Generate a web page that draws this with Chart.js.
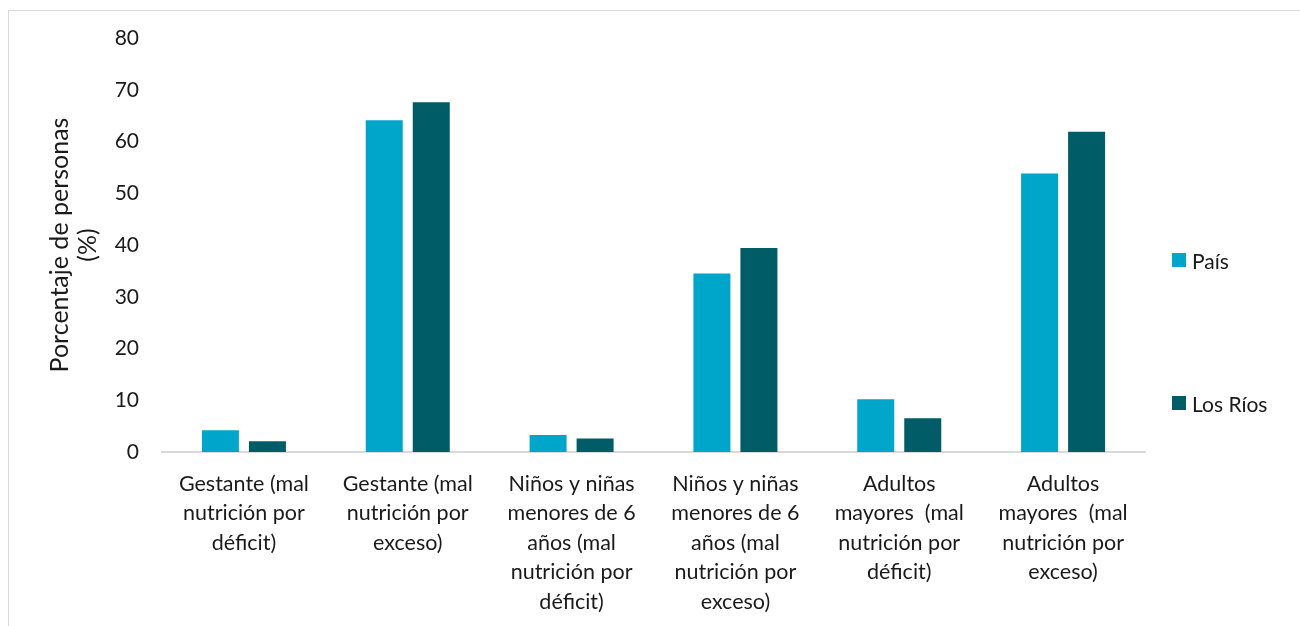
<!DOCTYPE html>
<html>
<head>
<meta charset="utf-8">
<script src="https://cdn.jsdelivr.net/npm/chart.js@4/dist/chart.umd.min.js"></script>
<style>
  html, body { margin: 0; padding: 0; background: #ffffff; }
  #wrap { position: relative; width: 1300px; height: 626px; overflow: hidden; }
  #frame { position: absolute; left: 8px; top: 10px; width: 1400px; height: 800px; border: 1px solid #d9d9d9; box-sizing: border-box; }
  canvas { position: absolute; left: 0; top: 0; }
  .lg { position: absolute; font-family: Lato, sans-serif; font-size: 21px; color: #1a1a1a; display: flex; align-items: center; height: 28px; }
  .lg span.box { display: inline-block; width: 14px; height: 14px; margin-right: 6px; }
</style>
</head>
<body>
<div id="wrap">
  <div id="frame"></div>
  <canvas id="c" width="1300" height="626"></canvas>
  <div id="legend"></div>
</div>
<script>
const categories = [
  ["Gestante (mal", "nutrición por", "déficit)"],
  ["Gestante (mal", "nutrición por", "exceso)"],
  ["Niños y niñas", "menores de 6", "años (mal", "nutrición por", "déficit)"],
  ["Niños y niñas", "menores de 6", "años (mal", "nutrición por", "exceso)"],
  ["Adultos", "mayores  (mal", "nutrición por", "déficit)"],
  ["Adultos", "mayores  (mal", "nutrición por", "exceso)"]
];
const seriesNames = ["País", "Los Ríos"];
const pais = [4.2, 64.1, 3.3, 34.5, 10.2, 53.8];
const losRios = [2.1, 67.6, 2.6, 39.4, 6.5, 61.9];
const yTicks = [0, 10, 20, 30, 40, 50, 60, 70, 80];
const yTitle = ["Porcentaje de personas", "(%)"];

const colors = ["#00A6C9", "#005C66"];
const textColor = "#1a1a1a";
const fontFamily = "Lato, sans-serif";

const chart = new Chart(document.getElementById('c'), {
  type: 'bar',
  data: {
    labels: categories,
    datasets: [
      { label: seriesNames[0], data: pais, backgroundColor: colors[0], borderWidth: 0, categoryPercentage: 0.574, barPercentage: 0.787 },
      { label: seriesNames[1], data: losRios, backgroundColor: colors[1], borderWidth: 0, categoryPercentage: 0.574, barPercentage: 0.787 }
    ]
  },
  options: {
    responsive: false,
    animation: false,
    layout: { padding: { top: 38, right: 155, bottom: 0, left: 0 } },
    plugins: { legend: { display: false }, tooltip: { enabled: false } },
    scales: {
      x: {
        grid: { display: false, drawTicks: false },
        border: { display: true, color: '#d9d9d9', width: 2 },
        ticks: {
          color: textColor, font: { family: fontFamily, size: 21.5, lineHeight: 1.375 },
          padding: 17, maxRotation: 0, minRotation: 0, autoSkip: false
        },
        afterFit: (s) => { s.height = 174; }
      },
      y: {
        min: 0, max: 80,
        afterBuildTicks: (s) => { s.ticks = yTicks.map(v => ({ value: v })); },
        grid: { display: false, drawTicks: false },
        border: { display: false },
        ticks: { color: textColor, font: { family: fontFamily, size: 21 }, padding: 23 },
        title: {
          display: true, text: yTitle, color: textColor,
          font: { family: fontFamily, size: 25, lineHeight: 1.12 },
          padding: { top: 46, bottom: 0 }
        },
        afterFit: (s) => { s.width = 162; }
      }
    }
  }
});

// legend (HTML text), positions next to the plot
const legend = document.getElementById('legend');
const legendY = [260, 403];
seriesNames.forEach((name, i) => {
  const d = document.createElement('div');
  d.className = 'lg';
  d.style.left = '1172px';
  d.style.top = (legendY[i] - 14) + 'px';
  d.innerHTML = '<span class="box" style="background:' + colors[i] + '"></span>';
  d.appendChild(document.createTextNode(name));
  legend.appendChild(d);
});
</script>
</body>
</html>
